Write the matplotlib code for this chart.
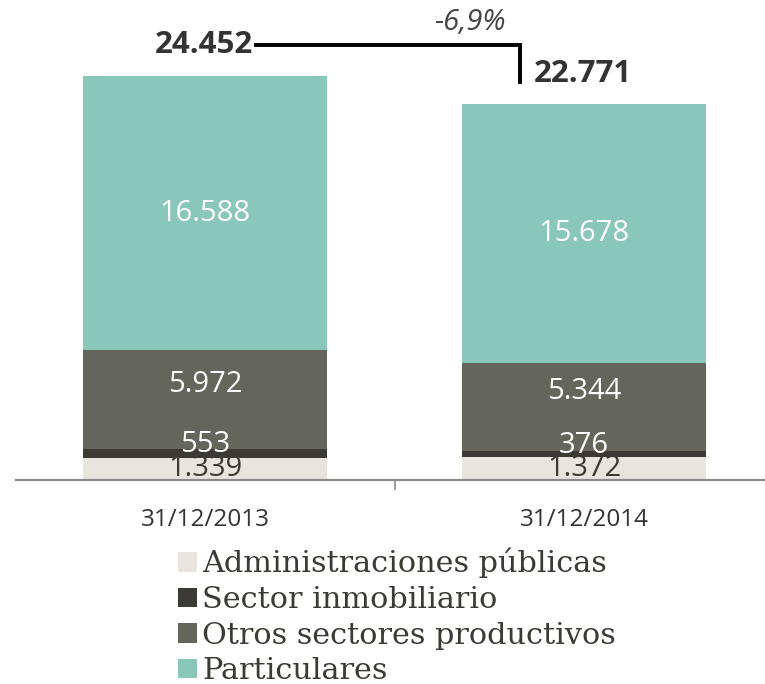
import matplotlib.pyplot as plt
from matplotlib.patches import Patch

# data
dates = ["31/12/2013", "31/12/2014"]
series = ["Administraciones públicas", "Sector inmobiliario",
          "Otros sectores productivos", "Particulares"]
admin = [1339, 1372]
inmob = [553, 376]
otros = [5972, 5344]
partic = [16588, 15678]
totals = [24452, 22771]
change = "-6,9%"

colors = ["#E8E5DF", "#3B3A35", "#65665B", "#88C7BA"]
label_colors = ["#3B3A35", "white", "white", "white"]
label_lift = [0, 6, 11, 0]  # points upward, to squeeze small segments

fig = plt.figure(figsize=(7.65, 6.84), dpi=100)
ax = fig.add_axes([15.5 / 765, 204 / 684, 758 / 765, 479 / 684])

x = [0, 1]
width = 0.644
bottoms = [0, 0]
for vals, col, lcol, lift in zip([admin, inmob, otros, partic], colors, label_colors, label_lift):
    ax.bar(x, vals, width, bottom=bottoms, color=col, edgecolor="none")
    for i in range(2):
        yc = bottoms[i] + vals[i] / 2
        ax.annotate(f"{vals[i]:,}".replace(",", "."), (x[i], yc),
                    xytext=(0, lift), textcoords="offset points",
                    ha="center", va="center", fontsize=21, color=lcol,
                    family="Open Sans")
    bottoms = [bottoms[i] + vals[i] for i in range(2)]

ax.set_xlim(-0.5, 1.5)
ax.set_ylim(0, 29000)

# totals and bracket
y_h = totals[0] + 1880
y_v = totals[1] + 1350
ax.plot([0.135, 0.831, 0.831], [y_h, y_h, y_v], color="black", lw=2.8,
        solid_joinstyle="miter", clip_on=False)
ax.text(0.128, y_h, f"{totals[0]:,}".replace(",", "."), ha="right", va="center",
        fontsize=22.5, fontweight="bold", color="#333333", family="Open Sans")
ax.text(0.868, totals[1] + 1790, f"{totals[1]:,}".replace(",", "."), ha="left",
        va="center", fontsize=22.5, fontweight="bold", color="#333333", family="Open Sans")
ax.text(0.7, y_h + 1350, change, ha="center", va="center", fontsize=21,
        style="italic", color="#444444", family="Open Sans")

for s in ["top", "left", "right"]:
    ax.spines[s].set_visible(False)
ax.spines["bottom"].set_color("#8A8A8A")
ax.spines["bottom"].set_linewidth(1.6)
ax.set_yticks([])
ax.set_xticks(x)
ax.set_xticklabels(dates, fontsize=17.5, color="#333333", family="Open Sans")
ax.tick_params(axis="x", length=0, pad=20)
ax.set_xticks([0.5], minor=True)
ax.tick_params(axis="x", which="minor", length=7, color="#8A8A8A", width=1.2)

handles = [Patch(facecolor=c, edgecolor="none") for c in colors]
fig.legend(handles, series, loc="upper left", bbox_to_anchor=(178 / 765, 1 - 548 / 684),
           frameon=False, prop={"family": "DejaVu Serif", "size": 21.8},
           handlelength=0.63, handleheight=0.63, handletextpad=0.17,
           labelspacing=0.25, borderpad=0, borderaxespad=0, labelcolor="#3B3A35")

fig.savefig("out.png", dpi=100)
